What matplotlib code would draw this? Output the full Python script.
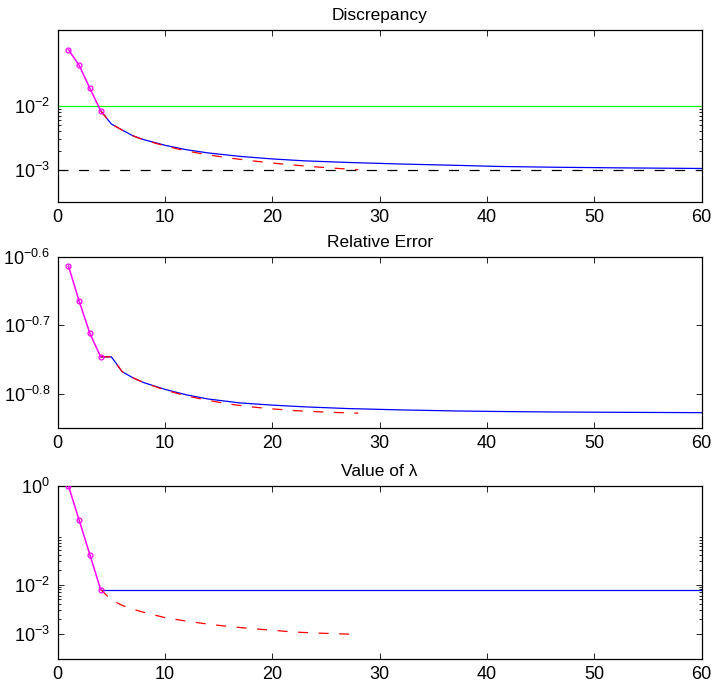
import matplotlib
matplotlib.use("Agg")
import matplotlib.pyplot as plt
import numpy as np
from matplotlib.ticker import NullFormatter, NullLocator, FixedLocator

plt.rcParams['font.family'] = ['Liberation Sans', 'DejaVu Sans']
plt.rcParams['mathtext.default'] = 'regular'
plt.rcParams['lines.scale_dashes'] = False

# ---------------- data ----------------
# first iterations (magenta, circle markers)
it_start = [1, 2, 3, 4]
disc_start = [0.0776, 0.0440, 0.0191, 0.00851]
relerr_start = [10**-0.6136, 10**-0.6649, 10**-0.7122, 10**-0.7464]
lam_start = [1.0, 0.2, 0.04, 0.00794]

# blue: fixed lambda continuation
it_blue = [4, 5, 6, 7, 8, 10, 12, 14, 17, 20, 23, 27, 32, 37, 41, 46, 52, 60]
disc_blue_log = [-2.07, -2.28, -2.375, -2.465, -2.525, -2.615, -2.685, -2.735,
                 -2.79, -2.83, -2.86, -2.885, -2.91, -2.93, -2.948, -2.96, -2.97, -2.98]
relerr_blue_log = [-0.7464, -0.7464, -0.768, -0.777, -0.784, -0.794, -0.802, -0.808,
                   -0.8138, -0.817, -0.8195, -0.822, -0.824, -0.8255, -0.8263, -0.827,
                   -0.8275, -0.828]
lam_blue = [0.00794] * len(it_blue)

# red: decreasing lambda continuation
it_red = [4, 5, 6, 7, 8, 10, 12, 14, 16, 18, 20, 22, 24, 26, 28]
disc_red_log = [-2.07, -2.28, -2.375, -2.465, -2.53, -2.625, -2.705, -2.765, -2.815,
                -2.857, -2.894, -2.926, -2.955, -2.978, -3.0]
relerr_red_log = [-0.7464, -0.7464, -0.768, -0.777, -0.784, -0.795, -0.8035, -0.810,
                  -0.8155, -0.8195, -0.8225, -0.825, -0.8265, -0.8278, -0.8287]
lam_red_log = [-2.10, -2.31, -2.42, -2.50, -2.56, -2.67, -2.74, -2.80, -2.85, -2.89,
               -2.925, -2.96, -2.98, -2.995, -3.01]

disc_target = 1e-2
disc_noise = 1e-3

titles = ['Discrepancy', 'Relative Error', 'Value of \u03bb']
xticks = [0, 10, 20, 30, 40, 50, 60]

# ---------------- figure ----------------
W, H = 714, 685
fig = plt.figure(figsize=(W / 100, H / 100), dpi=100)

left = 57.7 / W
width = (701.7 - 57.7) / W
boxes = [(30, 201.5), (256.7, 427.7), (485.7, 658.7)]
axes = []
for (t, b) in boxes:
    ax = fig.add_axes([left, 1 - b / H, width, (b - t) / H])
    axes.append(ax)

blue = '#0000ff'
red = '#ff0000'
mag = '#ff00ff'
dash = (7.2, 7.6)
fs = 13
tfs = 12.5


def style(ax, title):
    ax.set_yscale('log')
    ax.set_xlim(0, 60)
    ax.set_xticks(xticks)
    ax.set_xticklabels([str(v) for v in xticks])
    ax.tick_params(which='both', direction='in', top=True, right=True,
                   labelsize=fs, width=0.6, colors='black')
    ax.tick_params(which='major', length=4.5, pad=5.5)
    ax.tick_params(which='minor', length=2.3)
    for s in ax.spines.values():
        s.set_linewidth(0.9)
    ax.set_title(title, fontsize=tfs, pad=7)


# Panel 1: discrepancy
ax = axes[0]
ax.plot(it_blue, 10 ** np.array(disc_blue_log), color=blue, lw=0.9, zorder=3)
ax.plot(it_red, 10 ** np.array(disc_red_log), color=red, lw=0.9, dashes=dash, zorder=4)
ax.axhline(disc_target, color='#00ff00', lw=0.9, zorder=2)
ax.axhline(disc_noise, color='black', lw=0.9, dashes=dash, zorder=2)
ax.plot(it_start, disc_start, color=mag, lw=1.1, marker='o', ms=3.5,
        mfc='none', mec=mag, mew=0.9, zorder=5)
style(ax, titles[0])
ax.set_ylim(10 ** -3.5, 10 ** -0.8)
ax.yaxis.set_major_locator(FixedLocator([1e-3, 1e-2]))
ax.set_yticklabels(['$10^{-3}$', '$10^{-2}$'])
ax.yaxis.set_minor_locator(FixedLocator([k * 1e-3 for k in range(2, 10)]))
ax.yaxis.set_minor_formatter(NullFormatter())

# Panel 2: relative error
ax = axes[1]
ax.plot(it_blue, 10 ** np.array(relerr_blue_log), color=blue, lw=0.9, zorder=3)
ax.plot(it_red, 10 ** np.array(relerr_red_log), color=red, lw=0.9, dashes=dash, zorder=4)
ax.plot(it_start, relerr_start, color=mag, lw=1.1, marker='o', ms=3.5,
        mfc='none', mec=mag, mew=0.9, zorder=5)
style(ax, titles[1])
ax.set_ylim(10 ** -0.85, 10 ** -0.6)
ax.yaxis.set_major_locator(FixedLocator([10 ** -0.8, 10 ** -0.7, 10 ** -0.6]))
ax.set_yticklabels(['$10^{-0.8}$', '$10^{-0.7}$', '$10^{-0.6}$'])
ax.yaxis.set_minor_locator(NullLocator())

# Panel 3: lambda
ax = axes[2]
ax.plot(it_blue, lam_blue, color=blue, lw=0.9, zorder=3)
ax.plot(it_red, 10 ** np.array(lam_red_log), color=red, lw=0.9, dashes=dash, zorder=4)
ax.plot(it_start, lam_start, color=mag, lw=1.1, marker='o', ms=3.5,
        mfc='none', mec=mag, mew=0.9, zorder=5)
style(ax, titles[2])
ax.set_ylim(10 ** -3.5, 1.0)
ax.yaxis.set_major_locator(FixedLocator([1e-3, 1e-2, 1.0]))
ax.set_yticklabels(['$10^{-3}$', '$10^{-2}$', '$10^{0}$'])
ax.yaxis.set_minor_locator(FixedLocator([k * 1e-3 for k in range(2, 10)] +
                                        [k * 1e-2 for k in range(2, 10)]))
ax.yaxis.set_minor_formatter(NullFormatter())

fig.savefig('out.png', dpi=100)
